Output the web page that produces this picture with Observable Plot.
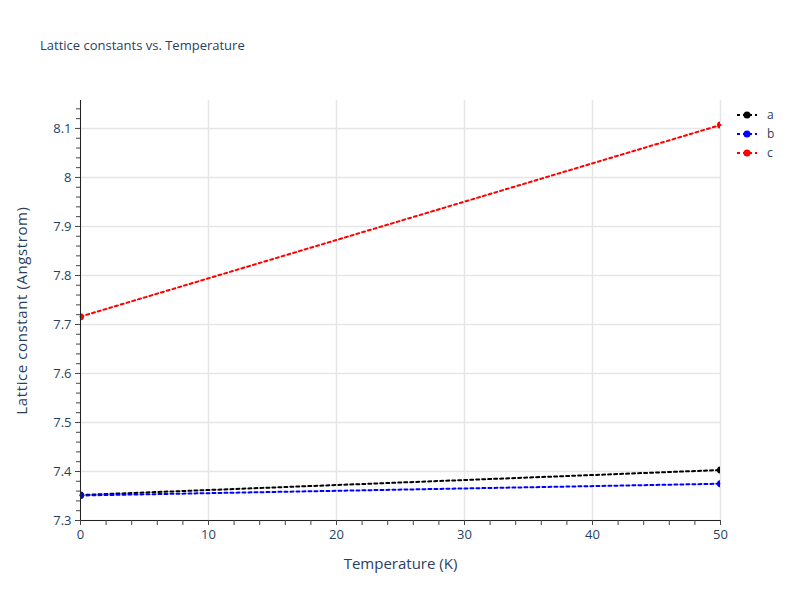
<!DOCTYPE html>
<html>
<head>
<meta charset="utf-8">
<script src="https://cdn.jsdelivr.net/npm/d3@7"></script>
<script src="https://cdn.jsdelivr.net/npm/@observablehq/plot@0.6"></script>
<style>
  body { margin: 0; background: #fff; font-family: "Open Sans", sans-serif; }
  #wrap { position: relative; width: 800px; height: 600px; }
  #title { position: absolute; left: 40px; top: 36px; font-size: 13px; color: #2a3f5f; }
  #legend { position: absolute; left: 735px; top: 105px; font-size: 12px; color: #2a3f5f; }
  .row { display: flex; align-items: center; height: 19px; }
  .row svg { margin-right: 8px; }
</style>
</head>
<body>
<div id="wrap">
  <div id="title">Lattice constants vs. Temperature</div>
  <div id="legend"></div>
</div>
<script>
const temperatures = [0, 50];
const seriesNames = ["a", "b", "c"];
const seriesColors = ["black", "blue", "red"];
const aValues = [7.352, 7.403];
const bValues = [7.351, 7.375];
const cValues = [7.716, 8.107];
const xTicks = [0, 10, 20, 30, 40, 50];
const yTicks = [7.3, 7.4, 7.5, 7.6, 7.7, 7.8, 7.9, 8.0, 8.1];

const allValues = [aValues, bValues, cValues];
const data = [];
seriesNames.forEach((s, i) => {
  temperatures.forEach((t, j) => data.push({series: s, T: t, v: allValues[i][j]}));
});

const xMinor = d3.range(0, 50.001, 2).filter(d => d % 10 !== 0);
const yMinor = d3.range(0, 43).map(i => +(7.3 + i * 0.02).toFixed(2)).filter(d => Math.abs(d * 10 - Math.round(d * 10)) > 1e-6);

const colorScale = {domain: seriesNames, range: seriesColors};

const chart = Plot.plot({
  width: 800,
  height: 600,
  marginLeft: 80,
  marginRight: 80,
  marginTop: 100,
  marginBottom: 80,
  style: {fontFamily: "Open Sans, sans-serif", fontSize: "12px", color: "#2a3f5f", background: "transparent"},
  x: {domain: [0, 50]},
  y: {domain: [7.3, 8.157]},
  color: colorScale,
  marks: [
    Plot.gridX(xTicks, {stroke: "#e6e6e6", strokeOpacity: 1, strokeWidth: 1.5}),
    Plot.gridY(yTicks, {stroke: "#e6e6e6", strokeOpacity: 1, strokeWidth: 1.5}),
    Plot.line(data, {x: "T", y: "v", z: "series", stroke: "series", strokeWidth: 2, strokeDasharray: "3,3"}),
    Plot.dot(data, {x: "T", y: "v", fill: "series", r: 3.5, clip: true}),
    Plot.ruleX([0], {stroke: "#222"}),
    Plot.ruleY([7.3], {stroke: "#222"}),
    Plot.axisX(xTicks, {tickSize: 5, tickPadding: 4, label: null, stroke: "#444", fill: "#2a3f5f", fontSize: 13}),
    Plot.axisX(xMinor, {tickSize: 5, tickFormat: () => "", label: null, stroke: "#444"}),
    Plot.axisY(yTicks, {tickSize: 5, tickPadding: 4, label: null, stroke: "#444", fill: "#2a3f5f", fontSize: 13, tickFormat: d => String(+d.toFixed(1))}),
    Plot.axisY(yMinor, {tickSize: 4, tickFormat: () => "", label: null, stroke: "#444"}),
    Plot.text(["Temperature (K)"], {frameAnchor: "bottom", dy: 48, text: d => d, fontSize: 15, fill: "#2a3f5f", textAnchor: "middle"}),
    Plot.text(["Lattice constant (Angstrom)"], {frameAnchor: "left", dx: -58, rotate: -90, text: d => d, fontSize: 15, fill: "#2a3f5f", textAnchor: "middle"})
  ]
});
document.getElementById("wrap").prepend(chart);
chart.querySelectorAll("text").forEach(t => { if (t.textContent === "Lattice constant (Angstrom)") t.setAttribute("letter-spacing", "0.6"); });

const legend = document.getElementById("legend");
seriesNames.forEach((s, i) => {
  const row = document.createElement("div");
  row.className = "row";
  const c = seriesColors[i];
  row.innerHTML = `<svg width="24" height="10"><line x1="2" x2="22" y1="5" y2="5" stroke="${c}" stroke-width="2" stroke-dasharray="3,3"/><circle cx="12" cy="5" r="3.5" fill="${c}"/></svg><span>${s}</span>`;
  legend.appendChild(row);
});
</script>
</body>
</html>
